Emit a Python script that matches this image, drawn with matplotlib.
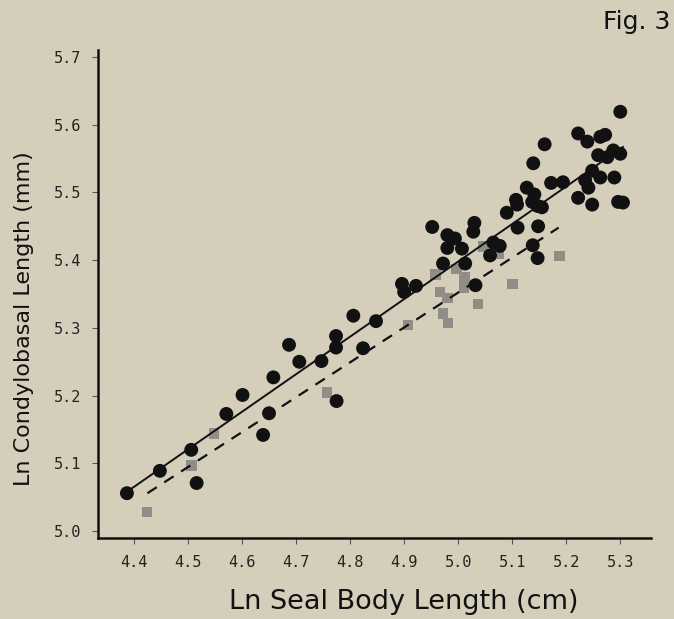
import matplotlib
matplotlib.use("Agg")
import matplotlib.pyplot as plt
import numpy as np

BG = "#d4cebb"

# black circles
dot_x = [4.387, 4.448, 4.506, 4.516, 4.571, 4.601, 4.639, 4.650, 4.658, 4.687,
         4.706, 4.747, 4.774, 4.774, 4.775, 4.806, 4.824, 4.848, 4.896, 4.900,
         4.922, 4.952, 4.972, 4.980, 4.994, 4.980, 5.007, 5.013, 5.030, 5.028,
         5.032, 5.065, 5.077, 5.059, 5.090, 5.107, 5.109, 5.110, 5.127, 5.139,
         5.141, 5.137, 5.148, 5.155, 5.138, 5.147, 5.160, 5.172, 5.194, 5.222,
         5.222, 5.239, 5.235, 5.241, 5.248, 5.248, 5.259, 5.263, 5.272, 5.263,
         5.276, 5.289, 5.287, 5.300, 5.300, 5.296, 5.305, 5.147]
dot_y = [5.056, 5.089, 5.120, 5.071, 5.173, 5.201, 5.142, 5.174, 5.227, 5.275,
         5.250, 5.251, 5.288, 5.271, 5.192, 5.318, 5.270, 5.310, 5.365, 5.353,
         5.362, 5.449, 5.395, 5.437, 5.432, 5.418, 5.417, 5.395, 5.455, 5.442,
         5.363, 5.426, 5.421, 5.407, 5.470, 5.489, 5.482, 5.448, 5.507, 5.543,
         5.497, 5.486, 5.450, 5.478, 5.422, 5.403, 5.571, 5.514, 5.515, 5.587,
         5.492, 5.575, 5.518, 5.507, 5.482, 5.532, 5.555, 5.582, 5.585, 5.522,
         5.552, 5.522, 5.562, 5.619, 5.557, 5.486, 5.485, 5.480]

# grey squares
sq_x = [4.424, 4.506, 4.548, 4.757, 4.907, 4.958, 4.997, 5.012, 5.011, 4.966,
        4.980, 4.972, 4.981, 5.037, 5.101, 5.046, 5.075, 5.187]
sq_y = [5.028, 5.097, 5.144, 5.205, 5.304, 5.379, 5.387, 5.375, 5.360, 5.353,
        5.344, 5.321, 5.307, 5.335, 5.365, 5.420, 5.410, 5.406]

# fitted lines (end points)
solid_x = [4.385, 5.305]
solid_y = [5.057, 5.567]
dash_x = [4.425, 5.186]
dash_y = [5.056, 5.448]

xticks = [4.4, 4.5, 4.6, 4.7, 4.8, 4.9, 5.0, 5.1, 5.2, 5.3]
yticks = [5.0, 5.1, 5.2, 5.3, 5.4, 5.5, 5.6, 5.7]

fig = plt.figure(figsize=(6.74, 6.19), dpi=100)
fig.patch.set_facecolor(BG)
ax = fig.add_axes([0.145, 0.131, 0.821, 0.788])
ax.set_facecolor(BG)

ax.scatter(sq_x, sq_y, marker="s", s=58, color="#8f8d86", edgecolors="none", zorder=2)
ax.plot(solid_x, solid_y, color="#111111", lw=1.4, zorder=3)
ax.plot(dash_x, dash_y, color="#111111", lw=1.6, ls=(0, (5, 4)), zorder=3)
ax.scatter(dot_x, dot_y, marker="o", s=100, color="#111111", edgecolors="none", zorder=4)

ax.set_xlim(4.333, 5.357)
ax.set_ylim(4.99, 5.71)
ax.set_xticks(xticks)
ax.set_yticks(yticks)
ax.set_xticklabels([f"{v:.1f}" for v in xticks], family="DejaVu Sans Mono", fontsize=11)
ax.set_yticklabels([f"{v:.1f}" for v in yticks], family="DejaVu Sans Mono", fontsize=11)
ax.tick_params(direction="out", length=4, width=0.8, color="#555555", labelcolor="#222222", pad=8)

for sp in ("top", "right"):
    ax.spines[sp].set_visible(False)
for sp in ("left", "bottom"):
    ax.spines[sp].set_linewidth(1.8)
    ax.spines[sp].set_color("#111111")

ax.set_xlabel("Ln Seal Body Length (cm)", family="DejaVu Sans", fontsize=19.5, color="#111111")
ax.xaxis.set_label_coords(0.553, -0.105)
ax.set_ylabel("Ln Condylobasal Length (mm)", family="DejaVu Sans", fontsize=16, color="#111111")
ax.yaxis.set_label_coords(-0.115, 0.45)

fig.text(0.995, 0.964, "Fig. 3", ha="right", va="center", family="DejaVu Sans", fontsize=18, color="#111111")

fig.savefig("out.png", dpi=100, facecolor=BG)
